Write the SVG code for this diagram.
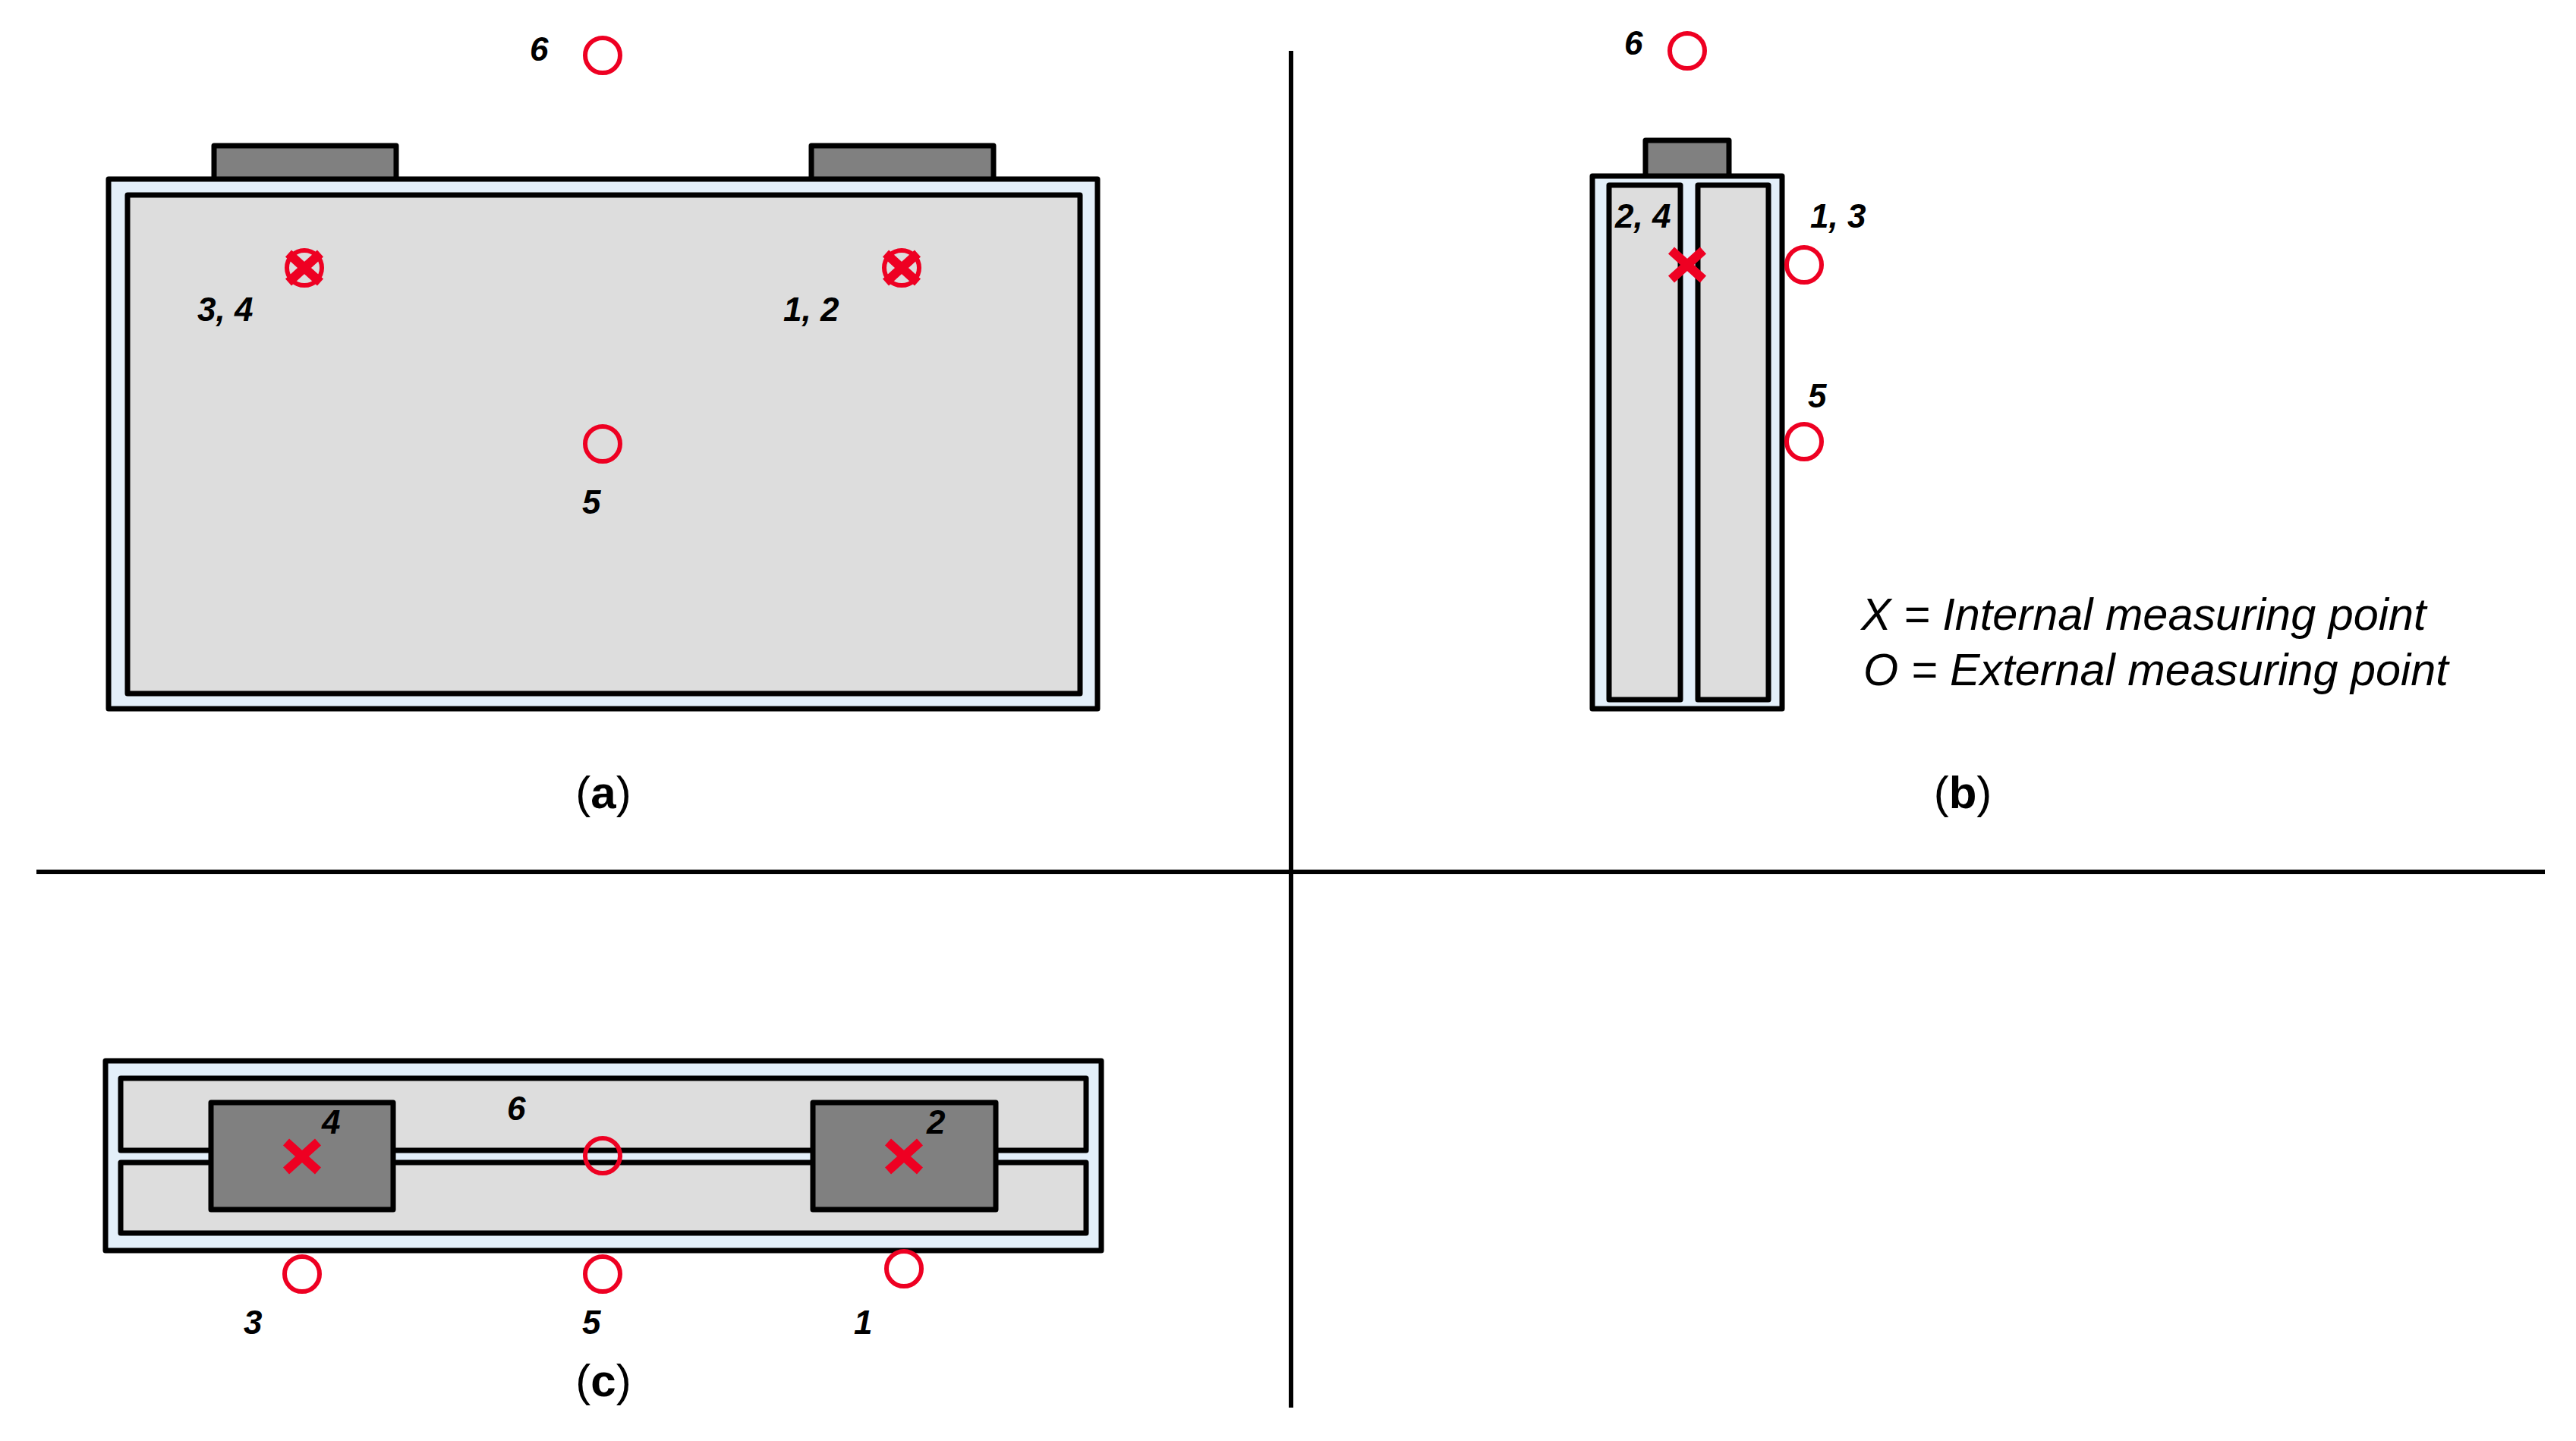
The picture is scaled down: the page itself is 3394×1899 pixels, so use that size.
<svg xmlns="http://www.w3.org/2000/svg" xmlns:xlink="http://www.w3.org/1999/xlink" width="3394" height="1899" viewBox="0 0 3394 1899">
<style>
.case{fill:#e3eff9;stroke:#000;stroke-width:7;stroke-linejoin:round}
.cell{fill:#dddddd;stroke:#000;stroke-width:7;stroke-linejoin:round}
.term{fill:#808080;stroke:#000;stroke-width:7;stroke-linejoin:round}
.o{fill:none;stroke:#ee0022;stroke-width:6}
.x{fill:none;stroke:#ee0022;stroke-width:12}
.n{font-family:"Liberation Sans",Arial,sans-serif;font-weight:700;font-style:italic;font-size:44px;fill:#000}
.cap{font-family:"Liberation Sans",Arial,sans-serif;font-size:60px;fill:#000;text-anchor:middle}
.cap tspan{font-weight:700}
.leg{font-family:"Liberation Sans",Arial,sans-serif;font-style:italic;font-size:59.4px;fill:#000}
.axis{stroke:#000;stroke-width:6;fill:none}
</style>
<defs>
<path id="cross" class="x" d="M-21-19L21 19M21-19L-21 19"/>
</defs>
<rect width="3394" height="1899" fill="#fff"/>
<g id="axes">
<path class="axis" d="M1701 67V1855"/>
<path class="axis" d="M48 1149H3353"/>
</g>
<g id="panel-a">
<rect class="term" x="282" y="192" width="240" height="45"/>
<rect class="term" x="1069" y="192" width="240" height="45"/>
<rect class="case" x="143" y="236" width="1303" height="698"/>
<rect class="cell" x="168" y="257" width="1255" height="657"/>
<circle class="o" cx="794" cy="73" r="23"/>
<circle class="o" cx="401" cy="353" r="23"/>
<use xlink:href="#cross" href="#cross" transform="translate(401 353)"/>
<circle class="o" cx="1188" cy="353" r="23"/>
<use xlink:href="#cross" href="#cross" transform="translate(1188 353)"/>
<circle class="o" cx="794" cy="585" r="23"/>
<text class="n" x="698" y="80">6</text>
<text class="n" x="260" y="423">3, 4</text>
<text class="n" x="1032" y="423">1, 2</text>
<text class="n" x="767" y="677">5</text>
<text class="cap" x="795" y="1065">(<tspan>a</tspan>)</text>
</g>
<g id="panel-b">
<rect class="term" x="2168" y="185" width="110" height="49"/>
<rect class="case" x="2098" y="232" width="250" height="702"/>
<rect class="cell" x="2120" y="244" width="94" height="678"/>
<rect class="cell" x="2237" y="244" width="93" height="678"/>
<use xlink:href="#cross" href="#cross" transform="translate(2223 349)"/>
<circle class="o" cx="2223" cy="67" r="23"/>
<circle class="o" cx="2377" cy="349" r="23"/>
<circle class="o" cx="2377" cy="582" r="23"/>
<text class="n" x="2140" y="72">6</text>
<text class="n" x="2128" y="300">2, 4</text>
<text class="n" x="2385" y="300">1, 3</text>
<text class="n" x="2382" y="537">5</text>
<text class="cap" x="2586" y="1065">(<tspan>b</tspan>)</text>
<text class="leg" x="2452" y="830">X = Internal measuring point</text>
<text class="leg" x="2455" y="903">O = External measuring point</text>
</g>
<g id="panel-c">
<rect class="case" x="139" y="1398" width="1312" height="250"/>
<rect class="cell" x="159" y="1421" width="1272" height="95"/>
<rect class="cell" x="159" y="1532" width="1272" height="93"/>
<rect class="term" x="278" y="1453" width="240" height="141"/>
<rect class="term" x="1071" y="1453" width="241" height="141"/>
<use xlink:href="#cross" href="#cross" transform="translate(398 1524)"/>
<use xlink:href="#cross" href="#cross" transform="translate(1191 1524)"/>
<circle class="o" cx="794" cy="1523" r="23"/>
<circle class="o" cx="398" cy="1679" r="23"/>
<circle class="o" cx="794" cy="1679" r="23"/>
<circle class="o" cx="1191" cy="1672" r="23"/>
<text class="n" x="424" y="1494">4</text>
<text class="n" x="668" y="1476">6</text>
<text class="n" x="1221" y="1494">2</text>
<text class="n" x="321" y="1758">3</text>
<text class="n" x="767" y="1758">5</text>
<text class="n" x="1125" y="1758">1</text>
<text class="cap" x="795" y="1840">(<tspan>c</tspan>)</text>
</g>
</svg>
